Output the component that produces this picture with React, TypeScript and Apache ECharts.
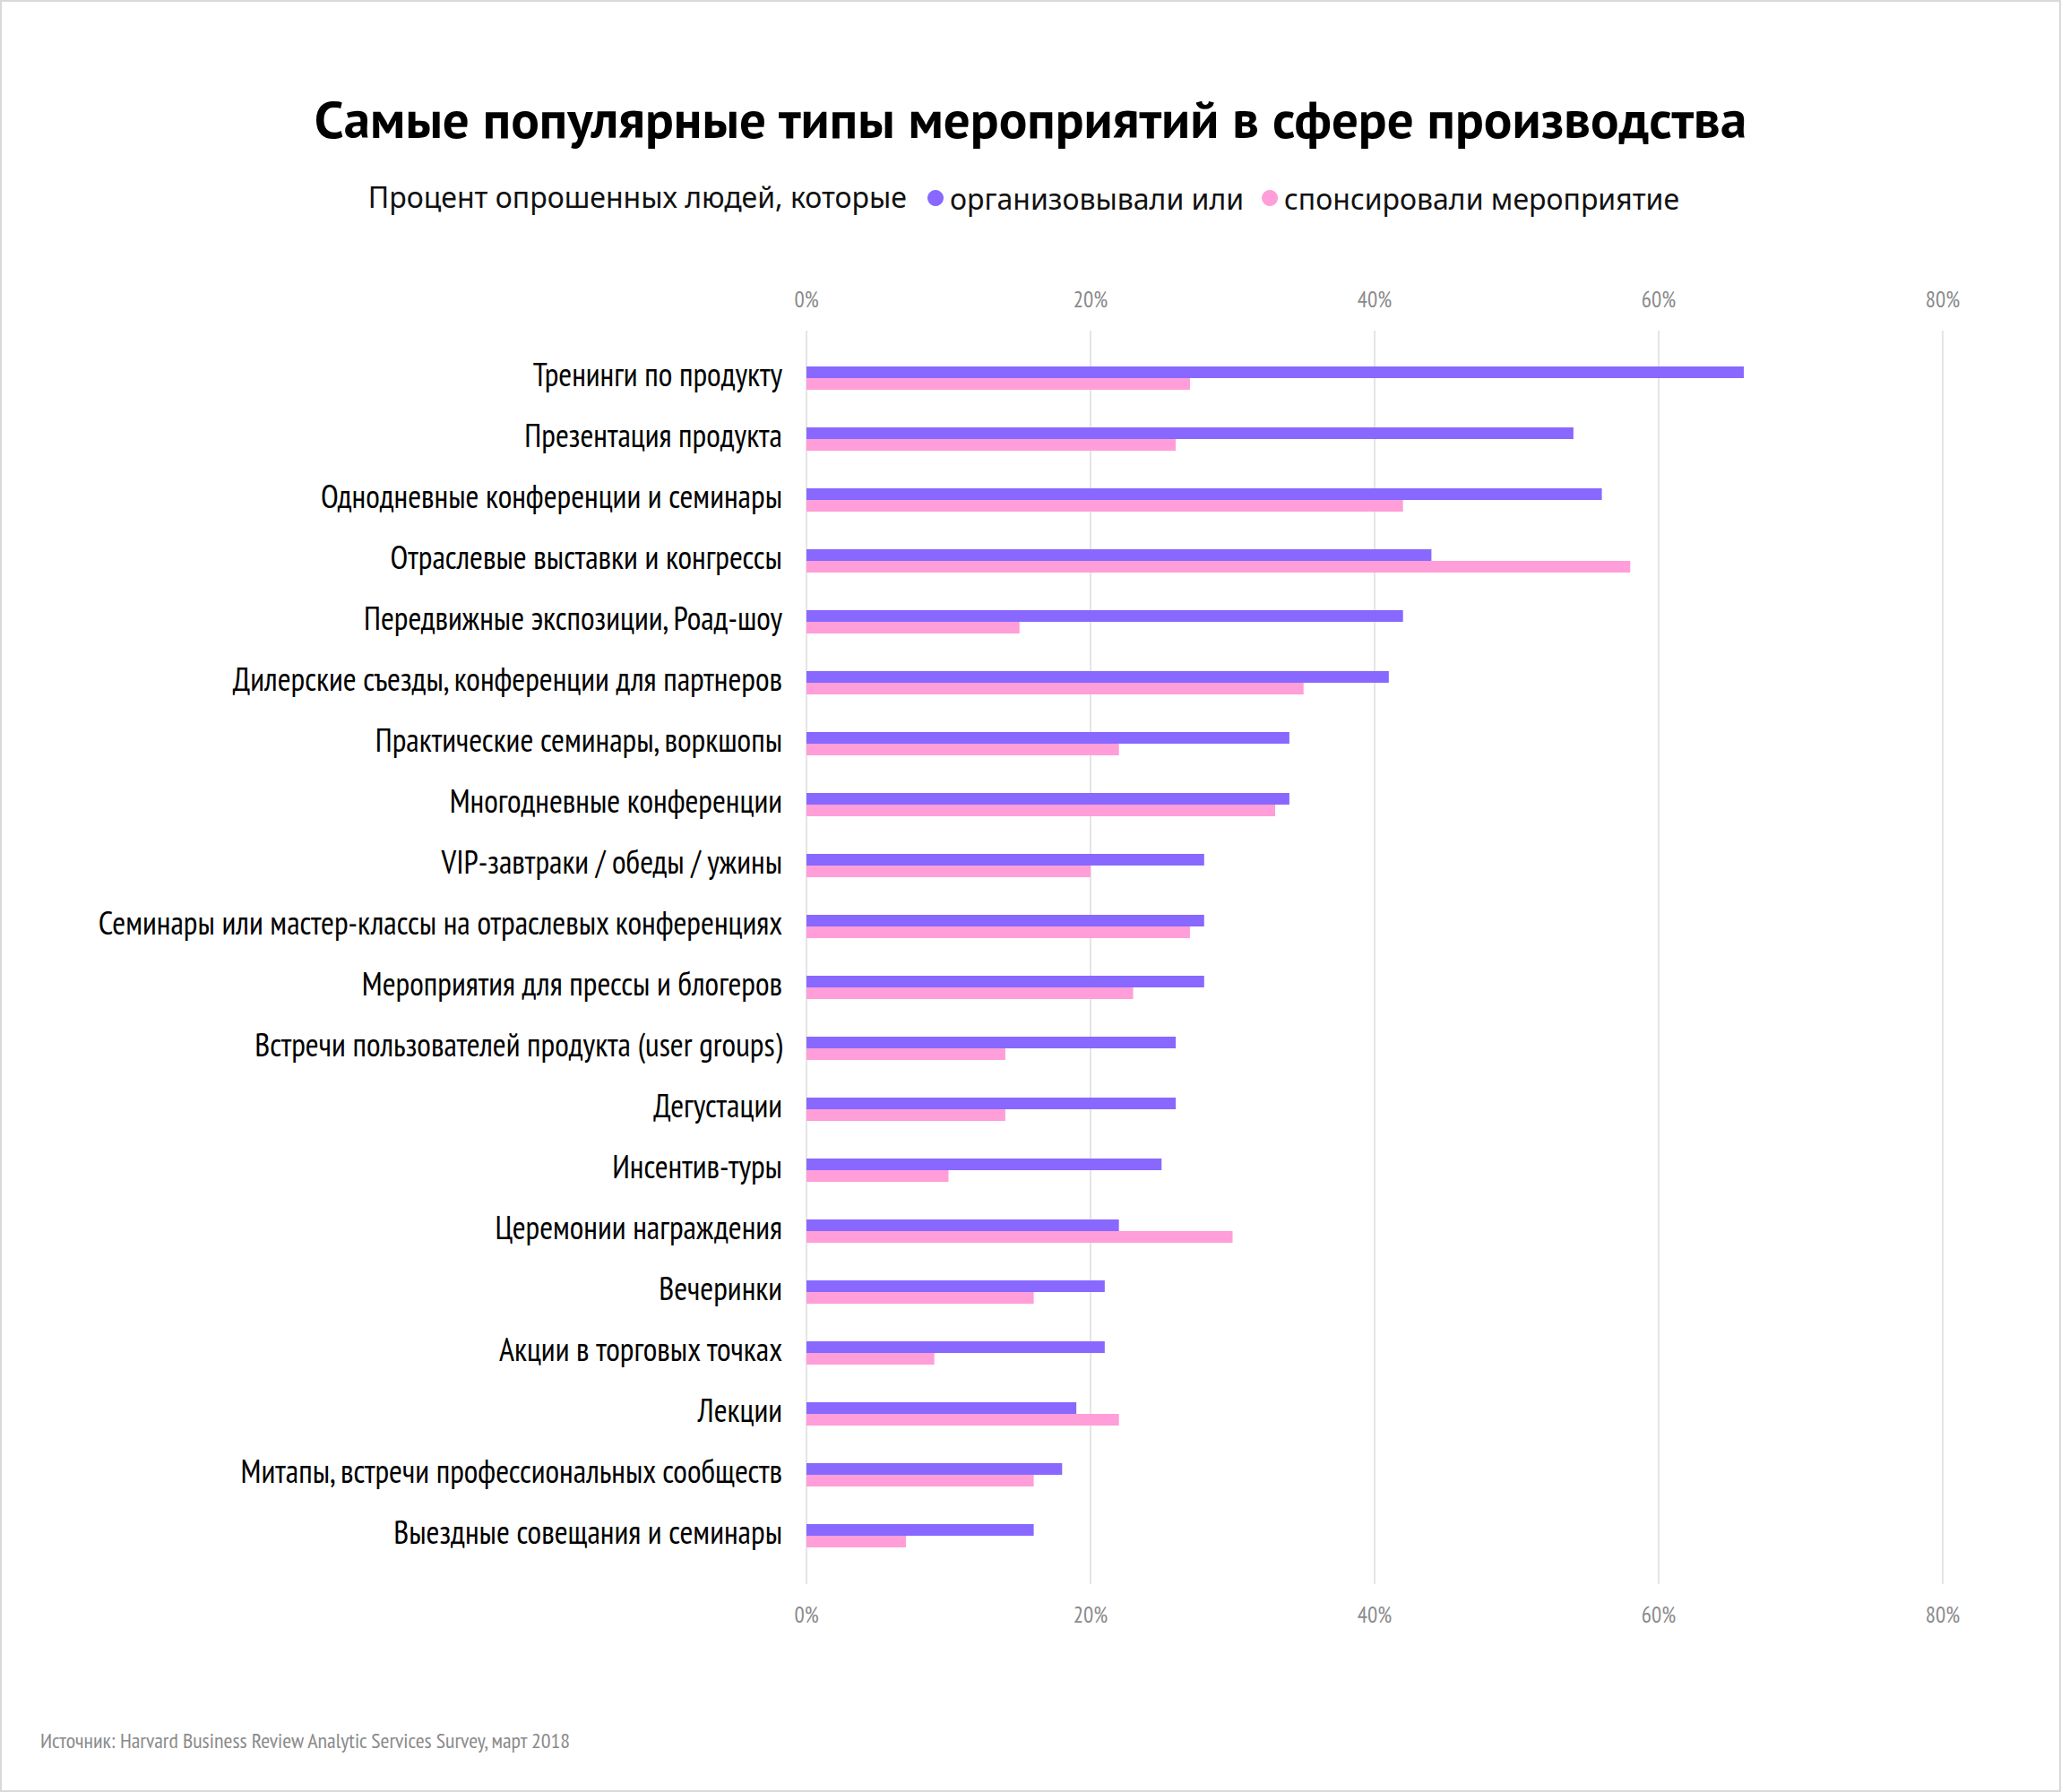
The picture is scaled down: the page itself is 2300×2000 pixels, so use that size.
import React, { useEffect, useRef } from "react";
import * as echarts from "echarts";

const categories = [
  "Тренинги по продукту",
  "Презентация продукта",
  "Однодневные конференции и семинары",
  "Отраслевые выставки и конгрессы",
  "Передвижные экспозиции, Роад-шоу",
  "Дилерские съезды, конференции для партнеров",
  "Практические семинары, воркшопы",
  "Многодневные конференции",
  "VIP-завтраки / обеды / ужины",
  "Семинары или мастер-классы на отраслевых конференциях",
  "Мероприятия для прессы и блогеров",
  "Встречи пользователей продукта (user groups)",
  "Дегустации",
  "Инсентив-туры",
  "Церемонии награждения",
  "Вечеринки",
  "Акции в торговых точках",
  "Лекции",
  "Митапы, встречи профессиональных сообществ",
  "Выездные совещания и семинары",
];

const organized = [66, 54, 56, 44, 42, 41, 34, 34, 28, 28, 28, 26, 26, 25, 22, 21, 21, 19, 18, 16];
const sponsored = [27, 26, 42, 58, 15, 35, 22, 33, 20, 27, 23, 14, 14, 10, 30, 16, 9, 22, 16, 7];

const seriesNames = ["организовывали или", "спонсировали мероприятие"];
const titleText = "Самые популярные типы мероприятий в сфере производства";
const subtitlePrefix = "Процент опрошенных людей, которые";
const sourceText = "Источник: Harvard Business Review Analytic Services Survey, март 2018";
const axisMin = 0;
const axisMax = 80;
const axisInterval = 20;

const NARROW = "'PT Sans Narrow', 'Roboto Condensed', sans-serif";
const TITLE = "'PT Sans', 'Noto Sans', sans-serif";
const REGULAR = "'Noto Sans', 'Open Sans', sans-serif";

export default function App() {
  const ref = useRef<HTMLDivElement>(null);
  useEffect(() => {
    document.body.style.margin = "0";
    if (!ref.current) return;
    const chart = echarts.init(ref.current, undefined, { renderer: "svg" });
    const tickLabel = (margin: number) => ({
      color: "#8a8a8a",
      fontSize: 25,
      fontFamily: NARROW,
      margin,
      formatter: "{value}%",
    });
    chart.setOption({
      animation: false,
      backgroundColor: "#ffffff",
      color: ["#8868ff", "#ff9ed8"],
      title: {
        text: titleText,
        left: "center",
        top: 97,
        textStyle: {
          fontSize: 59,
          fontWeight: "bold",
          color: "#000",
          fontFamily: TITLE,
        },
      },
      legend: {
        left: 1030,
        top: 200,
        icon: "circle",
        itemWidth: 18,
        itemHeight: 18,
        itemGap: 20,
        data: seriesNames,
        textStyle: { fontSize: 32, color: "#111", fontFamily: REGULAR, padding: [0, 0, 0, 2] },
      },
      graphic: [
        {
          type: "rect",
          shape: { x: 1, y: 1, width: 2298, height: 1998 },
          style: { fill: "none", stroke: "#d9d9d9", lineWidth: 2 },
          silent: true,
        },
        {
          type: "text",
          x: 1012,
          y: 219,
          style: {
            text: subtitlePrefix,
            align: "right",
            verticalAlign: "middle",
            fontSize: 32,
            fill: "#111",
            fontFamily: REGULAR,
          },
        },
        {
          type: "text",
          x: 45,
          y: 1942,
          style: {
            text: sourceText,
            align: "left",
            verticalAlign: "middle",
            fontSize: 24,
            fill: "#8a8a8a",
            fontFamily: NARROW,
          },
        },
      ],
      grid: [
        { left: 900, right: 132, top: 369, bottom: 232, outerBoundsMode: "none", containLabel: false },
        { left: 900, right: 132, top: 388, bottom: 252, outerBoundsMode: "none", containLabel: false },
      ],
      xAxis: [
        {
          gridIndex: 0,
          type: "value",
          position: "top",
          min: axisMin,
          max: axisMax,
          interval: axisInterval,
          axisLine: { show: false },
          axisTick: { show: false },
          axisLabel: tickLabel(23),
          splitLine: { show: true, lineStyle: { color: "#dcdcdc", width: 1.5 } },
        },
        {
          gridIndex: 0,
          type: "value",
          position: "bottom",
          min: axisMin,
          max: axisMax,
          interval: axisInterval,
          axisLine: { show: false },
          axisTick: { show: false },
          axisLabel: tickLabel(21),
          splitLine: { show: false },
        },
        {
          gridIndex: 1,
          type: "value",
          min: axisMin,
          max: axisMax,
          interval: axisInterval,
          show: false,
        },
      ],
      yAxis: [
        {
          gridIndex: 0,
          type: "value",
          show: false,
        },
        {
          gridIndex: 1,
          type: "category",
          inverse: true,
          data: categories,
          axisLine: { show: false },
          axisTick: { show: false },
          axisLabel: {
            color: "#000",
            fontSize: 36,
            fontFamily: NARROW,
            margin: 27,
            verticalAlign: "bottom",
            lineHeight: 9,
          },
        },
      ],
      series: [
        {
          name: seriesNames[0],
          type: "bar",
          xAxisIndex: 2,
          yAxisIndex: 1,
          data: organized,
          barWidth: 13,
          barGap: "0%",
          itemStyle: { color: "#8868ff" },
        },
        {
          name: seriesNames[1],
          type: "bar",
          xAxisIndex: 2,
          yAxisIndex: 1,
          data: sponsored,
          barWidth: 13,
          barGap: "0%",
          itemStyle: { color: "#ff9ed8" },
        },
      ],
    });
    return () => chart.dispose();
  }, []);
  return <div ref={ref} style={{ width: 2300, height: 2000 }} />;
}
